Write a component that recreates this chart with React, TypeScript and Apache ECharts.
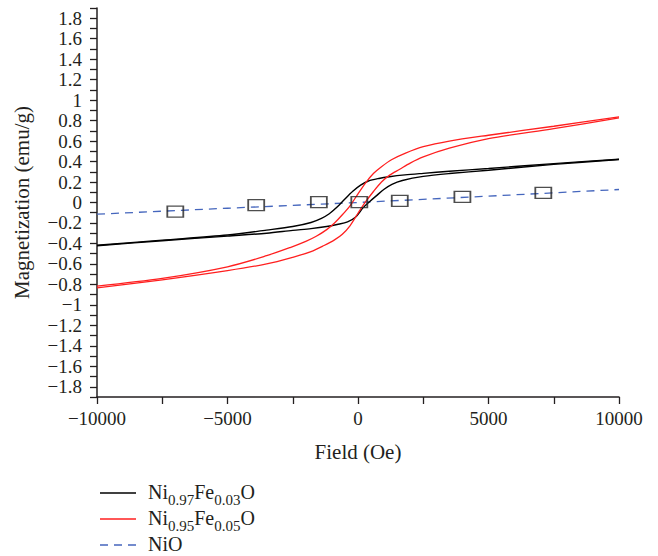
import React, { useEffect, useRef } from "react";
import * as echarts from "echarts";

// Ni0.97Fe0.03O hysteresis loop (black)
const fieldBlackDown = [10000, 7500, 5000, 3500, 2500, 1800, 1200, 800, 400, 100, -200, -500, -800, -1100, -1400, -1800, -2500, -3500, -5000, -7500, -10000];
const magBlackDown = [0.423, 0.38, 0.332, 0.305, 0.285, 0.27, 0.252, 0.235, 0.21, 0.17, 0.11, 0.035, -0.045, -0.11, -0.155, -0.195, -0.235, -0.27, -0.318, -0.368, -0.418];
const fieldBlackUp = [-10000, -7500, -5000, -3500, -2500, -1800, -1200, -800, -400, -100, 200, 450, 700, 1000, 1300, 1700, 2500, 3500, 5000, 7500, 10000];
const magBlackUp = [-0.422, -0.374, -0.328, -0.3, -0.272, -0.255, -0.235, -0.215, -0.19, -0.145, -0.05, 0.01, 0.065, 0.13, 0.178, 0.215, 0.255, 0.283, 0.315, 0.372, 0.42];

// Ni0.95Fe0.05O hysteresis loop (red)
const fieldRedDown = [10000, 7500, 5000, 3500, 2500, 1800, 1300, 900, 600, 300, 0, -300, -600, -900, -1200, -1600, -2000, -2600, -3500, -5000, -7500, -10000];
const magRedDown = [0.836, 0.745, 0.657, 0.6, 0.545, 0.48, 0.42, 0.35, 0.285, 0.195, 0.085, -0.03, -0.12, -0.2, -0.265, -0.33, -0.38, -0.44, -0.52, -0.628, -0.741, -0.816];
const fieldRedUp = [-10000, -7500, -5000, -3500, -2500, -1800, -1300, -900, -600, -300, 0, 300, 600, 900, 1200, 1600, 2000, 2500, 3500, 5000, 7500, 10000];
const magRedUp = [-0.835, -0.755, -0.665, -0.6, -0.535, -0.48, -0.42, -0.365, -0.31, -0.225, -0.105, 0.01, 0.11, 0.2, 0.265, 0.325, 0.385, 0.445, 0.53, 0.624, 0.722, 0.826];

// NiO (blue dashed) and its square markers
const fieldNiO = [-10000, -5000, 0, 5000, 10000];
const magNiO = [-0.114, -0.056, 0, 0.062, 0.127];
const fieldMarkers = [-7000, -3900, -1500, 50, 1600, 4000, 7100];
const magMarkers = [-0.09, -0.025, 0.003, 0.003, 0.016, 0.055, 0.094];

// Legend entries (rich text with subscripts)
const legendNames = ["Ni0.97Fe0.03O", "Ni0.95Fe0.05O", "NiO"];
const legendRichText = [
  "{a|Ni}{s|0.97}{a|Fe}{s|0.03}{a|O}",
  "{a|Ni}{s|0.95}{a|Fe}{s|0.05}{a|O}",
  "{a|NiO}",
];

const FONT = "Liberation Serif";
const TXT = "#231f20";
const BLACK = "#000000";
const RED = "#ff1f1f";
const BLUE = "#4566bd";

const zip = (xs: number[], ys: number[]) => xs.map((x, i) => [x, ys[i]]);
const minus = (v: number) => (v < 0 ? "\u2212" + String(-v) : String(v));

export default function App() {
  const ref = useRef<HTMLDivElement>(null);
  useEffect(() => {
    if (!ref.current) return;
    const chart = echarts.init(ref.current, null, { renderer: "svg" });
    const blackLine = { color: BLACK, width: 1.4 };
    const redLine = { color: RED, width: 1.3 };
    const lineStyles = [
      { stroke: BLACK, lineWidth: 1.4 },
      { stroke: RED, lineWidth: 1.3 },
      { stroke: BLUE, lineWidth: 1.3, lineDash: [8, 6] },
    ];
    const legendRows = [493, 519, 545];
    const legendGraphics: any[] = [];
    legendNames.forEach((name, i) => {
      legendGraphics.push({
        type: "line",
        shape: { x1: 100, y1: legendRows[i], x2: 136, y2: legendRows[i] },
        style: { ...lineStyles[i], fill: null },
        silent: true,
      });
      legendGraphics.push({
        type: "text",
        name,
        x: 148,
        y: legendRows[i],
        style: {
          text: legendRichText[i],
          verticalAlign: "middle",
          align: "left",
          fontFamily: FONT,
          fontSize: 20,
          fill: TXT,
          rich: {
            a: { fontFamily: FONT, fontSize: 20, fill: TXT, lineHeight: 22, verticalAlign: "top" },
            s: { fontFamily: FONT, fontSize: 15, fill: TXT, lineHeight: 15, verticalAlign: "top", padding: [10, 0, 0, 0] },
          },
        },
        silent: true,
      });
    });

    const smoothOpts = { smooth: 0.3 };
    chart.setOption({
      animation: false,
      backgroundColor: "#fff",
      textStyle: { fontFamily: FONT },
      grid: { left: 97, right: 39, top: 8, bottom: 159 },
      xAxis: {
        type: "value",
        min: -10000,
        max: 10000,
        interval: 2500,
        name: "Field (Oe)",
        nameLocation: "middle",
        nameGap: 44,
        nameTextStyle: { fontFamily: FONT, fontSize: 21, color: TXT },
        axisLine: { onZero: false, lineStyle: { color: TXT, width: 1.5 } },
        axisTick: { length: 7, lineStyle: { color: TXT, width: 1.3 } },
        axisLabel: {
          margin: 12,
          fontFamily: FONT,
          fontSize: 19,
          color: TXT,
          formatter: (v: number) => (Math.round(v) % 5000 === 0 ? minus(Math.round(v)) : ""),
        },
        splitLine: { show: false },
      },
      yAxis: {
        type: "value",
        min: -1.9,
        max: 1.9,
        interval: 0.1,
        name: "Magnetization (emu/g)",
        nameLocation: "middle",
        nameGap: 65,
        nameTextStyle: { fontFamily: FONT, fontSize: 21, color: TXT },
        axisLine: { onZero: false, lineStyle: { color: TXT, width: 1.5 } },
        axisTick: { length: 7, lineStyle: { color: TXT, width: 1.3 } },
        axisLabel: {
          margin: 15,
          fontFamily: FONT,
          fontSize: 19,
          color: TXT,
          formatter: (v: number) => {
            const k = Math.round(v * 10);
            if (k % 2 !== 0 || Math.abs(k) > 18) return "";
            return minus(k / 10);
          },
        },
        splitLine: { show: false },
      },
      graphic: legendGraphics,
      series: [
        { name: legendNames[0], type: "line", data: zip(fieldBlackDown, magBlackDown), symbol: "none", ...smoothOpts, lineStyle: blackLine, itemStyle: { color: BLACK }, z: 3 },
        { name: legendNames[0], type: "line", data: zip(fieldBlackUp, magBlackUp), symbol: "none", ...smoothOpts, lineStyle: blackLine, itemStyle: { color: BLACK }, z: 3 },
        { name: legendNames[1], type: "line", data: zip(fieldRedDown, magRedDown), symbol: "none", ...smoothOpts, lineStyle: redLine, itemStyle: { color: RED }, z: 3 },
        { name: legendNames[1], type: "line", data: zip(fieldRedUp, magRedUp), symbol: "none", ...smoothOpts, lineStyle: redLine, itemStyle: { color: RED }, z: 3 },
        { name: legendNames[2], type: "line", data: zip(fieldNiO, magNiO), symbol: "none", lineStyle: { color: BLUE, width: 1.3, type: [8, 6] }, itemStyle: { color: BLUE }, z: 2 },
        {
          name: "NiO markers",
          type: "scatter",
          data: zip(fieldMarkers, magMarkers),
          symbol: "rect",
          symbolSize: [16, 11],
          itemStyle: { color: "rgba(0,0,0,0)", borderColor: "#222", borderWidth: 1.5 },
          z: 4,
        },
      ],
    });
    return () => chart.dispose();
  }, []);
  return <div ref={ref} style={{ position: "fixed", left: 0, top: 0, width: 658, height: 556, background: "#fff" }} />;
}
